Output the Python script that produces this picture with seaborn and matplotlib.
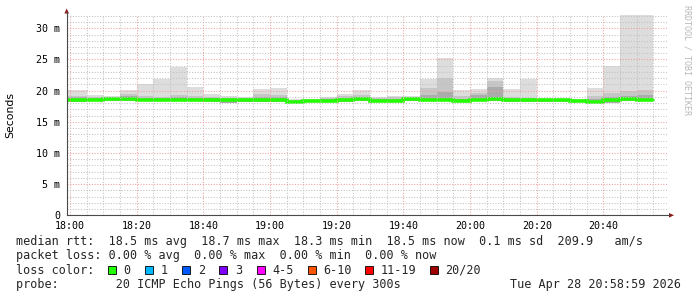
import numpy as np
import pandas as pd
import matplotlib
matplotlib.use("Agg")
import matplotlib.pyplot as plt
import seaborn as sns
from matplotlib.lines import Line2D
from matplotlib.patches import Polygon, Rectangle
from matplotlib.ticker import FixedLocator

# ---------------- data (RTT in ms, one value per 5-minute bin ending 18:05 ... 20:55) -------------
bin_end = pd.date_range("2026-04-28 18:05", "2026-04-28 20:55", freq="5min")
median_ms = [18.5, 18.5, 18.65, 18.65, 18.5, 18.5, 18.45, 18.45, 18.45, 18.45, 18.45, 18.45,
             18.5, 18.2, 18.4, 18.4, 18.5, 18.65, 18.4, 18.4, 18.7, 18.5, 18.5, 18.4,
             18.5, 18.65, 18.45, 18.45, 18.45, 18.45, 18.4, 18.2, 18.45, 18.65, 18.5]
smoke_max = [20.1, 19.25, 19.1, 20.1, 21.05, 21.9, 23.8, 20.6, 19.5, 19.1, 19.0, 20.3,
             20.4, 18.6, 18.6, 19.0, 19.45, 20.1, 19.0, 19.1, 19.1, 21.9, 25.2, 20.1,
             20.2, 22.0, 20.2, 21.9, 18.7, 18.7, 18.6, 20.4, 24.0, 33.5, 33.5]
smoke_mid = [19.2, 19.0, 18.95, 19.5, 19.1, 19.0, 19.3, 19.2, 19.0, 18.8, 18.8, 19.4,
             19.3, 18.5, 18.5, 18.8, 19.1, 19.3, 18.8, 18.9, 18.95, 20.4, 22.0, 19.2,
             19.7, 21.6, 19.0, 18.8, 18.6, 18.6, 18.55, 19.2, 19.6, 19.9, 20.1]
smoke_inner = [18.9, 18.8, 18.8, 19.1, 18.8, 18.8, 18.9, 18.8, 18.75, 18.6, 18.6, 18.9,
               18.9, 18.35, 18.45, 18.6, 18.7, 19.0, 18.6, 18.7, 18.85, 19.3, 19.8, 18.7,
               19.3, 20.6, 18.6, 18.6, 18.5, 18.5, 18.45, 18.6, 19.0, 19.2, 19.3]
smoke_min = [18.2, 18.3, 18.4, 18.4, 18.3, 18.3, 18.3, 18.3, 18.2, 18.0, 18.1, 18.2,
             18.2, 17.95, 18.2, 18.2, 18.2, 18.3, 18.2, 18.2, 18.4, 18.3, 18.3, 18.2,
             18.3, 18.4, 18.2, 18.2, 18.2, 18.2, 18.2, 17.95, 18.0, 18.3, 18.3]

x_tick_labels = ["18:00", "18:20", "18:40", "19:00", "19:20", "19:40", "20:00", "20:20", "20:40"]
y_tick_values = [0, 5, 10, 15, 20, 25, 30]
y_tick_labels = ["0", "5 m", "10 m", "15 m", "20 m", "25 m", "30 m"]

loss_labels = ["0", "1", "2", "3", "4-5", "6-10", "11-19", "20/20"]
loss_colors = ["#22ff00", "#00b8ff", "#0059ff", "#7e00ff", "#ff00ff", "#ff5500", "#ff0000", "#a10000"]

line_rtt = "median rtt:  18.5 ms avg  18.7 ms max  18.3 ms min  18.5 ms now  0.1 ms sd  209.9   am/s"
line_loss = "packet loss: 0.00 % avg  0.00 % max  0.00 % min  0.00 % now"
line_probe = "probe:        20 ICMP Echo Pings (56 Bytes) every 300s"
stamp = "Tue Apr 28 20:58:59 2026"

# ---------------- layout ----------------
W, H = 697, 297
t0 = pd.Timestamp("2026-04-28 18:00")
t_end = pd.Timestamp("2026-04-28 20:58:59")
xmax = (t_end - t0).total_seconds() / 60.0
xmin = xmax - 180.0
ends = np.array([(t - t0).total_seconds() / 60.0 for t in bin_end])
x_e = np.concatenate([[xmin], ends])


def stepv(a):
    a = np.asarray(a, float)
    return np.concatenate([[a[0]], a])


sns.set_theme(style="white")
plt.rcParams["font.family"] = ["DejaVu Sans Mono", "DejaVu Sans"]

fig = plt.figure(figsize=(W / 100, H / 100), dpi=100)
fig.patch.set_facecolor("white")
ax_l, ax_b, ax_w, ax_h = 66.7, 81.7, 600.0, 200.3
ax = fig.add_axes([ax_l / W, ax_b / H, ax_w / W, ax_h / H])
ax.set_facecolor("white")

# smoke
ax.fill_between(x_e, stepv(smoke_min), stepv(smoke_max), step="pre", color="#dddddd", lw=0, zorder=1)
ax.fill_between(x_e, stepv(smoke_min), stepv(smoke_mid), step="pre", color="#c6c6c6", lw=0, zorder=1.1)
ax.fill_between(x_e, stepv(smoke_min), stepv(smoke_inner), step="pre", color="#ababab", lw=0, zorder=1.2)

# median
df = pd.DataFrame({"t": x_e, "rtt": stepv(median_ms)})
sns.lineplot(data=df, x="t", y="rtt", ax=ax, color=loss_colors[0], linewidth=2.6,
             drawstyle="steps-pre", sort=False, estimator=None, zorder=2,
             solid_joinstyle="miter")

ax.set_xlim(xmin, xmax)
ax.set_ylim(0, ax_h / 6.233)
ax.set_xlabel("")

# ticks / grid
maj_x = [20 * i for i in range(len(x_tick_labels))]
ax.xaxis.set_major_locator(FixedLocator(maj_x))
ax.set_xticklabels(x_tick_labels)
ax.xaxis.set_minor_locator(FixedLocator([5 * i for i in range(0, 36) if i % 4]))
ax.yaxis.set_major_locator(FixedLocator(y_tick_values))
ax.set_yticklabels(y_tick_labels)
ax.yaxis.set_minor_locator(FixedLocator([v for v in range(1, 33) if v % 5]))

ax.set_axisbelow(False)
ax.grid(True, which="minor", color="#c2c2c2", linestyle=(0, (1, 1.6)), linewidth=0.75)
ax.grid(True, which="major", color="#eea0a0", linestyle=(0, (1, 1.6)), linewidth=0.75)
for gl in ax.get_xgridlines() + ax.get_ygridlines():
    gl.set_zorder(3)

ax.tick_params(axis="both", which="major", length=1.6, width=0.7, color="#606060",
               labelsize=7.2, labelcolor="#000000", direction="out")
ax.tick_params(axis="y", which="major", pad=3.3)
ax.tick_params(axis="x", which="major", pad=2.6)
ax.tick_params(axis="both", which="minor", length=0)

for s in ["top", "right"]:
    ax.spines[s].set_visible(False)
for s in ["left", "bottom"]:
    ax.spines[s].set_color("#4a4a4a")
    ax.spines[s].set_linewidth(0.8)
    ax.spines[s].set_zorder(4)

ax.set_ylabel("Seconds", family="DejaVu Sans", fontsize=7.8, color="#000000")
ax.yaxis.set_label_coords(-(ax_l - 15.5) / ax_w, 0.5)


def fx(px):
    return px / W


def fy(py):
    return 1 - py / H


# axis arrows
fig.add_artist(Line2D([fx(ax_l), fx(ax_l)], [fy(15), fy(12)], color="#4a4a4a", lw=0.8))
fig.add_artist(Line2D([fx(ax_l + ax_w), fx(669)], [fy(215.3), fy(215.3)], color="#4a4a4a", lw=0.8))
fig.add_artist(Polygon([[fx(66.7), fy(8.5)], [fx(64.4), fy(13.5)], [fx(69.0), fy(13.5)]],
                       closed=True, color="#8b1a1a", lw=0))
fig.add_artist(Polygon([[fx(674), fy(215.3)], [fx(669), fy(213.0)], [fx(669), fy(217.6)]],
                       closed=True, color="#8b1a1a", lw=0))

# watermark
fig.text(fx(687), fy(5), "RRDTOOL / TOBI OETIKER", rotation=270, ha="center", va="top",
         fontsize=6.0, color="#b8b8b8", family="DejaVu Sans Mono")

# legend text
fs = 8.5
fig.text(fx(16), fy(241), line_rtt, ha="left", va="center", fontsize=fs)
fig.text(fx(16), fy(255.5), line_loss, ha="left", va="center", fontsize=fs)
fig.text(fx(16), fy(270), "loss color:", ha="left", va="center", fontsize=fs)
box_x = [108, 145, 182, 219, 257, 307.5, 365, 430]
lab_x = [123.6, 161, 198, 235, 272, 323, 381, 445]
for bx, lx, lab, col in zip(box_x, lab_x, loss_labels, loss_colors):
    fig.add_artist(Rectangle((fx(bx), fy(274.3)), 8.4 / W, 8.6 / H, facecolor=col,
                             edgecolor="#000000", lw=0.6))
    fig.text(fx(lx), fy(270), lab, ha="left", va="center", fontsize=fs)
fig.text(fx(16), fy(284.5), line_probe, ha="left", va="center", fontsize=fs)
fig.text(fx(681), fy(284.5), stamp, ha="right", va="center", fontsize=fs)

fig.savefig("out.png", dpi=100, facecolor="white")
